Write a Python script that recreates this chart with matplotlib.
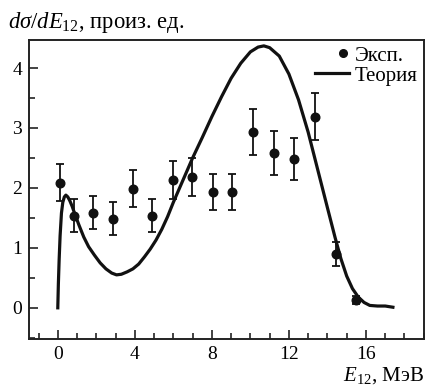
import matplotlib
matplotlib.use("Agg")
import matplotlib.pyplot as plt
from matplotlib.ticker import MultipleLocator
from matplotlib.lines import Line2D
from matplotlib.legend_handler import HandlerLine2D

plt.rcParams['font.family'] = ['Liberation Serif', 'DejaVu Serif']
plt.rcParams['mathtext.fontset'] = 'custom'
plt.rcParams['mathtext.rm'] = 'Liberation Serif'
plt.rcParams['mathtext.it'] = 'Liberation Serif:italic'

# Experimental points: energy E12 (MeV), cross section and errors
exp_e = [0.1, 0.83, 1.85, 2.87, 3.9, 4.9, 5.96, 6.98, 8.05, 9.07,
         10.15, 11.22, 12.26, 13.33, 14.44, 15.48]
exp_y = [2.09, 1.54, 1.59, 1.49, 1.99, 1.54, 2.13, 2.18, 1.93, 1.93,
         2.93, 2.58, 2.48, 3.19, 0.90, 0.13]
exp_err = [0.31, 0.27, 0.27, 0.28, 0.31, 0.27, 0.32, 0.32, 0.30, 0.30,
           0.38, 0.37, 0.35, 0.39, 0.20, 0.07]

# Theoretical curve
th_e = [0.0, 0.03, 0.07, 0.12, 0.19, 0.26, 0.34, 0.42, 0.52, 0.62, 0.75,
        0.9, 1.1, 1.35, 1.6, 1.9, 2.2, 2.5, 2.8, 3.05, 3.3, 3.6, 3.9,
        4.2, 4.5, 4.8, 5.1, 5.4, 5.7, 6.0, 6.5, 7.0, 7.5, 8.0, 8.5, 9.0,
        9.5, 10.0, 10.4, 10.7, 11.0, 11.5, 12.0, 12.5, 13.0, 13.5, 14.0,
        14.4, 14.7, 15.0, 15.3, 15.6, 15.9, 16.2, 16.6, 17.0, 17.4]
th_y = [0.0, 0.4, 0.8, 1.2, 1.58, 1.76, 1.85, 1.88, 1.85, 1.79, 1.69,
        1.55, 1.38, 1.18, 1.02, 0.88, 0.75, 0.65, 0.58, 0.55, 0.56, 0.6,
        0.65, 0.73, 0.85, 0.98, 1.13, 1.31, 1.52, 1.76, 2.13, 2.5, 2.84,
        3.19, 3.52, 3.83, 4.08, 4.27, 4.35, 4.37, 4.34, 4.2, 3.9, 3.47,
        2.93, 2.3, 1.67, 1.17, 0.82, 0.53, 0.32, 0.18, 0.09, 0.04, 0.03,
        0.03, 0.01]

INK = '#111111'


class MarkerAtRight(HandlerLine2D):
    """Legend handler that puts a single marker near the right end."""
    def get_xdata(self, legend, xdescent, ydescent, width, height, fontsize):
        xm = [-xdescent + 0.82 * width]
        return xm, xm


fig = plt.figure(figsize=(4.25, 3.91), dpi=100)
ax = fig.add_axes([0.068, 0.133, 0.929, 0.765])

ax.errorbar(exp_e, exp_y, yerr=exp_err, fmt='o', color=INK,
            markersize=6.2, elinewidth=1.3, capsize=3.2, capthick=1.3,
            zorder=3)
ax.plot(th_e, th_y, color=INK, linewidth=2.3, zorder=2,
        solid_joinstyle='round')

ax.set_xlim(-1.5, 19.0)
ax.set_ylim(-0.52, 4.47)
ax.xaxis.set_major_locator(MultipleLocator(4))
ax.xaxis.set_minor_locator(MultipleLocator(1))
ax.yaxis.set_major_locator(MultipleLocator(1))
ax.yaxis.set_minor_locator(MultipleLocator(0.5))
ax.tick_params(which='both', direction='in', width=1.2, labelsize=14,
               top=False, right=False, color='#222222')
ax.tick_params(which='major', length=6.5, pad=5)
ax.tick_params(which='minor', length=4)
for sp in ax.spines.values():
    sp.set_linewidth(1.4)
    sp.set_color('#222222')

h_exp = Line2D([], [], marker='o', linestyle='none', color=INK,
               markersize=5.5)
h_th = Line2D([], [], color=INK, linewidth=2.3)
ax.legend([h_exp, h_th], ['Эксп.', 'Теория'], loc='upper right',
          frameon=False, fontsize=15, handlelength=1.6, handletextpad=0.28,
          borderaxespad=0.1, borderpad=0.2, labelspacing=0.02,
          handler_map={h_exp: MarkerAtRight(numpoints=2)})

fig.text(0.018, 0.928, r'$d\sigma/dE_{12}$, произ. ед.', fontsize=16.3,
         ha='left', va='baseline')
fig.text(0.997, 0.028, r'$E_{12}$, МэВ', fontsize=15,
         ha='right', va='baseline')

fig.savefig('out.png', dpi=100)
